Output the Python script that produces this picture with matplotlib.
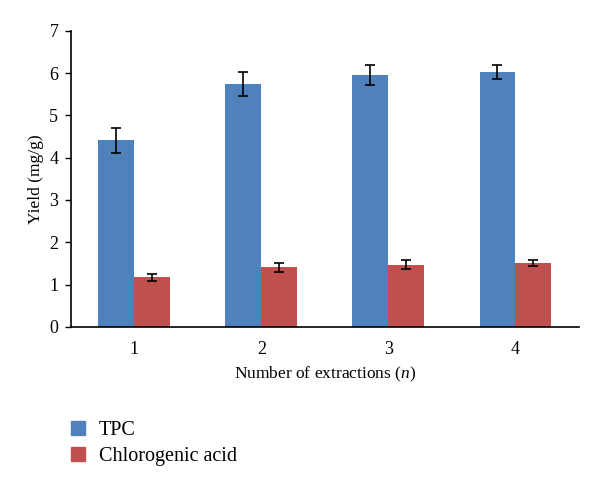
import numpy as np
import matplotlib.pyplot as plt
from matplotlib.patches import Patch

plt.rcParams['font.family'] = ['Liberation Serif', 'DejaVu Serif']
plt.rcParams['mathtext.fontset'] = 'custom'
plt.rcParams['mathtext.it'] = 'Liberation Serif:italic'
plt.rcParams['mathtext.rm'] = 'Liberation Serif'

extractions = ['1', '2', '3', '4']
tpc = [4.41, 5.75, 5.96, 6.03]
tpc_err = [0.30, 0.28, 0.23, 0.16]
cga = [1.17, 1.41, 1.47, 1.50]
cga_err = [0.09, 0.11, 0.11, 0.07]

blue = '#4F81BD'
red = '#C0504D'

fig = plt.figure(figsize=(6, 4.9), dpi=100)
ax = fig.add_axes([0.118, 0.333, 0.847, 0.604])

x = np.arange(len(extractions)) + 0.5
w = 0.283
ax.bar(x - w / 2, tpc, w, color=blue, yerr=tpc_err, capsize=3.5,
       error_kw=dict(elinewidth=1.2, capthick=1.2, ecolor='black'))
ax.bar(x + w / 2, cga, w, color=red, yerr=cga_err, capsize=3.5,
       error_kw=dict(elinewidth=1.2, capthick=1.2, ecolor='black'))

ax.set_xlim(0, 4)
ax.set_ylim(0, 7)
ax.set_xticks(x)
ax.set_xticklabels(extractions)
ax.set_yticks(range(0, 8))
ax.tick_params(axis='x', length=0, pad=10, labelsize=13)
ax.tick_params(axis='y', length=4, width=1, labelsize=13, direction='out', pad=5)
for s in ['top', 'right']:
    ax.spines[s].set_visible(False)
ax.spines['left'].set_linewidth(1.2)
ax.spines['bottom'].set_linewidth(1.2)

ax.set_xlabel('Number of extractions ($\\it{n}$)', fontsize=12.5, labelpad=5)
ax.set_ylabel('Yield (mg/g)', fontsize=12.5, labelpad=4)

handles = [Patch(color=blue, label='TPC'), Patch(color=red, label='Chlorogenic acid')]
fig.legend(handles=handles, loc='upper left', bbox_to_anchor=(0.118, 0.141),
           frameon=False, fontsize=14.5, handlelength=0.7, handleheight=0.7,
           handletextpad=0.7, labelspacing=0.35, borderpad=0, borderaxespad=0)

fig.savefig('out.png', dpi=100)
